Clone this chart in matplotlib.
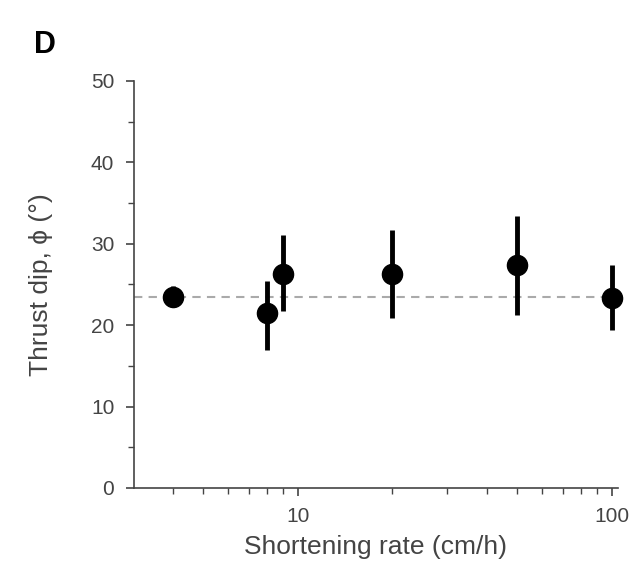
import matplotlib
matplotlib.use("Agg")
import matplotlib.pyplot as plt
from matplotlib.ticker import FixedLocator, NullFormatter

rate = [4, 8, 9, 20, 50, 100]
dip = [23.5, 21.5, 26.3, 26.3, 27.4, 23.3]
err_low = [1.3, 4.5, 4.6, 5.4, 6.1, 3.9]
err_high = [1.3, 3.9, 4.8, 5.4, 6.0, 4.1]
mean_dip = 23.5
yticks = [0, 10, 20, 30, 40, 50]

plt.rcParams['font.family'] = ['Liberation Sans', 'DejaVu Sans']
txt = '#444444'
fig = plt.figure(figsize=(6.34, 5.66), dpi=100)
ax = fig.add_axes([0.211, 0.138, 0.764, 0.719])

ax.axhline(mean_dip, color='#aaaaaa', ls=(0, (4, 3)), lw=1.5, zorder=1)
eb = ax.errorbar(rate, dip, yerr=[err_low, err_high], fmt='o', color='black',
                 ms=14.5, elinewidth=3.5, capsize=0, zorder=3)
eb.lines[0].set_clip_on(False)
for art in eb.lines[2]:
    art.set_clip_on(False)

ax.set_xscale('log')
ax.set_xlim(3, 105)
ax.set_ylim(0, 50)
ax.set_yticks(yticks)
ax.yaxis.set_minor_locator(FixedLocator([5, 15, 25, 35, 45]))
ax.set_xticks([10, 100])
ax.set_xticklabels(['10', '100'])
ax.xaxis.set_minor_locator(FixedLocator([4, 5, 6, 7, 8, 9, 20, 30, 40, 50, 60, 70, 80, 90]))
ax.xaxis.set_minor_formatter(NullFormatter())

for s in ['top', 'right']:
    ax.spines[s].set_visible(False)
for s in ['left', 'bottom']:
    ax.spines[s].set_color('#444444')
    ax.spines[s].set_linewidth(1.2)

ax.tick_params(which='major', direction='out', length=6, width=1.2, color='#444444',
               labelsize=15, labelcolor=txt, pad=8)
ax.tick_params(which='minor', direction='out', length=4, width=1.0, color='#444444')

ax.set_xlabel('Shortening rate (cm/h)', fontsize=19, color=txt, labelpad=6)
ax.set_ylabel('Thrust dip, ϕ (°)', fontsize=19, color=txt, labelpad=27)

fig.text(0.071, 0.92, 'D', fontsize=22, fontweight='bold', color='black', ha='center', va='center')

fig.savefig('out.png', dpi=100)
